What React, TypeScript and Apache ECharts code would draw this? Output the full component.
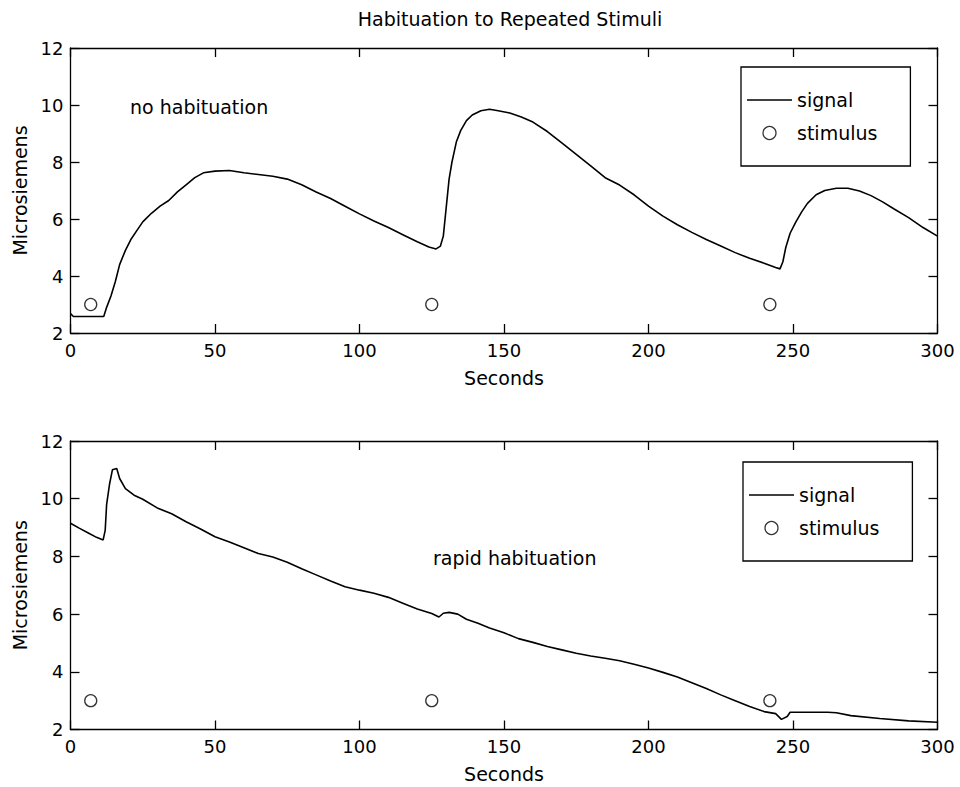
import React, { useEffect, useRef } from "react";
import * as echarts from "echarts";

// ---- data ----
const topTime = [0, 1, 5, 11.5, 12.5, 14, 15.5, 17, 19, 21, 23, 25, 28, 31, 34, 37, 40, 43, 46, 50, 55, 60, 65, 70, 75, 80, 85, 90, 95, 100, 105, 110, 115, 120, 124, 126.5, 128, 129, 130, 131, 132, 133.5, 135, 137, 139, 142, 145, 148, 152, 156, 160, 165, 170, 175, 180, 185, 190, 195, 200, 205, 210, 215, 220, 225, 230, 235, 240, 244, 245.5, 246.5, 247.5, 249, 251, 253, 255, 258, 261, 265, 269, 273, 277, 281, 285, 290, 295, 300];
const topSignal = [2.68, 2.58, 2.58, 2.58, 2.9, 3.3, 3.8, 4.4, 4.9, 5.3, 5.6, 5.9, 6.2, 6.45, 6.65, 6.95, 7.2, 7.45, 7.62, 7.68, 7.7, 7.62, 7.56, 7.5, 7.4, 7.2, 6.95, 6.72, 6.45, 6.18, 5.93, 5.7, 5.45, 5.2, 5.02, 4.95, 5.05, 5.4, 6.4, 7.4, 8.0, 8.7, 9.1, 9.45, 9.65, 9.8, 9.85, 9.8, 9.72, 9.58, 9.4, 9.07, 8.67, 8.27, 7.86, 7.45, 7.19, 6.85, 6.45, 6.1, 5.8, 5.53, 5.28, 5.05, 4.82, 4.62, 4.45, 4.3, 4.25, 4.5, 5.0, 5.5, 5.9, 6.25, 6.55, 6.85, 7.0, 7.08, 7.08, 6.98, 6.82, 6.6, 6.35, 6.05, 5.7, 5.4];

const bottomTime = [0, 3, 6, 9, 11.3, 12, 12.5, 13.5, 14.5, 16, 17, 19, 22, 25, 30, 35, 40, 45, 50, 55, 60, 65, 70, 75, 80, 85, 90, 95, 100, 105, 110, 115, 120, 125, 127.5, 129, 131, 134, 137, 141, 145, 150, 155, 160, 165, 170, 175, 180, 185, 190, 195, 200, 205, 210, 215, 220, 225, 230, 235, 240, 244, 246, 248, 249, 255, 262, 265, 270, 280, 290, 300];
const bottomSignal = [9.15, 8.98, 8.82, 8.66, 8.57, 8.9, 9.8, 10.5, 11.0, 11.05, 10.7, 10.35, 10.12, 9.98, 9.68, 9.48, 9.2, 8.95, 8.68, 8.5, 8.3, 8.1, 7.98, 7.8, 7.57, 7.36, 7.15, 6.95, 6.83, 6.72, 6.58, 6.38, 6.18, 6.02, 5.9, 6.03, 6.06, 6.0, 5.82, 5.68, 5.52, 5.35, 5.15, 5.02, 4.88, 4.76, 4.64, 4.55, 4.47, 4.38, 4.26, 4.13, 3.98, 3.82, 3.62, 3.42, 3.2, 3.0, 2.8, 2.62, 2.55, 2.35, 2.45, 2.6, 2.6, 2.6, 2.58, 2.48, 2.38, 2.3, 2.25];

const stimulusTimes = [7, 125, 242];
const stimulusLevels = [3, 3, 3];

const X_MIN = 0, X_MAX = 300, X_STEP = 50;
const Y_MIN = 2, Y_MAX = 12, Y_STEP = 2;

const FONT = "DejaVu Sans";
const INK = "#000";

const pair = (xs: number[], ys: number[]) => xs.map((x, i) => [x, ys[i]]);

function axesFor(grid: number) {
  const common = {
    gridIndex: grid,
    axisLine: { show: true, onZero: false, lineStyle: { color: INK, width: 1.3 } },
    axisTick: { show: true, inside: true, length: 9, lineStyle: { color: INK, width: 1.3 } },
    splitLine: { show: false },
  };
  const labelStyle = { color: INK, fontSize: 18, fontFamily: FONT };
  const x = [
    {
      ...common, type: "value", position: "bottom", min: X_MIN, max: X_MAX, interval: X_STEP,
      axisLabel: { ...labelStyle, margin: 8 },
      name: "Seconds", nameLocation: "middle", nameGap: 35,
      nameTextStyle: { color: INK, fontSize: 19, fontFamily: FONT },
    },
    {
      ...common, type: "value", position: "top", min: X_MIN, max: X_MAX, interval: X_STEP,
      axisLabel: { show: false },
    },
  ];
  const y = [
    {
      ...common, type: "value", position: "left", min: Y_MIN, max: Y_MAX, interval: Y_STEP,
      axisLabel: { ...labelStyle, margin: 7 },
      name: "Microsiemens", nameLocation: "middle", nameGap: 33,
      nameTextStyle: { color: INK, fontSize: 19, fontFamily: FONT },
    },
    {
      ...common, type: "value", position: "right", min: Y_MIN, max: Y_MAX, interval: Y_STEP,
      axisLabel: { show: false },
    },
  ];
  return { x, y };
}

function legendFor(left: number, top: number) {
  return {
    left, top, orient: "vertical",
    backgroundColor: "#fff", borderColor: INK, borderWidth: 1.3,
    padding: [22, 33, 22, 6], itemGap: 11, itemWidth: 45, itemHeight: 13,
    selectedMode: false,
    textStyle: { color: INK, fontSize: 19, fontFamily: FONT, lineHeight: 22 },
    data: [
      { name: "signal", icon: "path://M0,0H45V1.6H0Z", itemStyle: { color: INK, borderWidth: 0 } },
      { name: "stimulus", icon: "circle", itemStyle: { color: "#fff", borderColor: INK, borderWidth: 1.3 } },
    ],
  };
}

export default function App() {
  const ref = useRef<HTMLDivElement>(null);
  useEffect(() => {
    if (!ref.current) return;
    const chart = echarts.init(ref.current, null, { renderer: "svg" });
    const a0 = axesFor(0);
    const a1 = axesFor(1);
    const lineSeries = (name: string, xi: number, yi: number, data: number[][]) => ({
      name, type: "line", xAxisIndex: xi, yAxisIndex: yi, data,
      showSymbol: false, symbol: "none", smooth: false,
      lineStyle: { color: INK, width: 1.6 }, itemStyle: { color: INK },
    });
    const scatterSeries = (name: string, xi: number, yi: number, data: number[][]) => ({
      name, type: "scatter", xAxisIndex: xi, yAxisIndex: yi, data,
      symbol: "circle", symbolSize: 12,
      itemStyle: { color: "#fff", borderColor: INK, borderWidth: 1.3 },
    });
    chart.setOption({
      animation: false,
      backgroundColor: "#fff",
      grid: [
        { left: 70.5, right: 22.5, top: 48, height: 285 },
        { left: 70.5, right: 22.5, top: 441, height: 288.5 },
      ],
      xAxis: [...a0.x, ...a1.x],
      yAxis: [...a0.y, ...a1.y],
      legend: [legendFor(741, 67), legendFor(743, 462)],
      series: [
        lineSeries("signal", 0, 0, pair(topTime, topSignal)),
        scatterSeries("stimulus", 0, 0, pair(stimulusTimes, stimulusLevels)),
        lineSeries("signal", 2, 2, pair(bottomTime, bottomSignal)),
        scatterSeries("stimulus", 2, 2, pair(stimulusTimes, stimulusLevels)),
      ],
      graphic: [
        {
          type: "text", x: 510, y: 19,
          style: { text: "Habituation to Repeated Stimuli", fill: INK, font: `19px "${FONT}"`, align: "center", verticalAlign: "middle" },
        },
        {
          type: "text", x: 130, y: 107,
          style: { text: "no habituation", fill: INK, font: `19px "${FONT}"`, align: "left", verticalAlign: "middle" },
        },
        {
          type: "text", x: 433, y: 558,
          style: { text: "rapid habituation", fill: INK, font: `19px "${FONT}"`, align: "left", verticalAlign: "middle" },
        },
      ],
    });
    return () => chart.dispose();
  }, []);
  return (
    <div
      ref={ref}
      style={{ position: "fixed", left: 0, top: 0, width: 960, height: 787, background: "#fff" }}
    />
  );
}
